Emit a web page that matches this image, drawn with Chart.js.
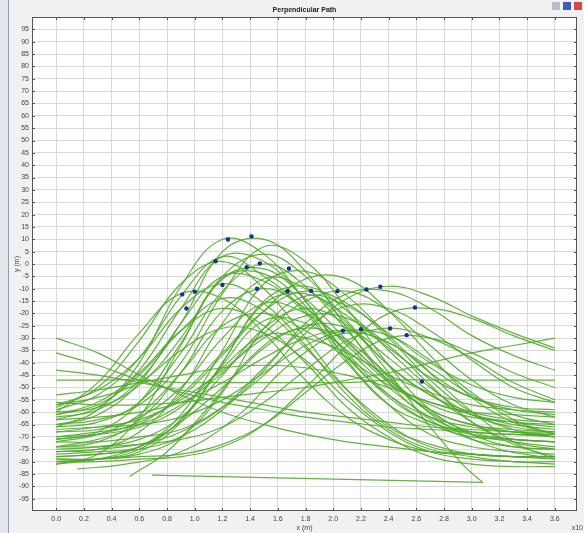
<!DOCTYPE html>
<html>
<head>
<meta charset="utf-8">
<script src="https://cdn.jsdelivr.net/npm/chart.js@4.4.1/dist/chart.umd.min.js"></script>
<style>
  html, body { margin: 0; padding: 0; background: #f1f1f1; }
  #wrap { position: relative; width: 584px; height: 533px; }
</style>
</head>
<body>
<div id="wrap"><canvas id="path"></canvas></div>
<script>
const xGrid = [0, 0.3, 0.6, 0.9, 1.2, 1.5, 1.8, 2.1, 2.4, 2.7, 3.0, 3.3, 3.6];

// tracks that peak early, around x = 1.0 .. 1.8
const earlyPaths = [
  [-62, -59, -47, -24, 5, 10, -3, -26, -48, -63, -71, -74, -75],
  [-66, -59, -40, -9, 10, 4, -15, -37, -54, -64, -68, -69, -70],
  [-58, -50, -31, -8, 1, -10, -30, -51, -66, -73, -77, -78, -78],
  [-71, -68, -56, -32, -6, -2, -14, -31, -47, -57, -62, -64, -65],
  [-66, -64, -56, -36, -11, 0, -9, -27, -46, -60, -68, -71, -72],
  [-78, -77, -74, -61, -35, -8, -3, -13, -29, -44, -54, -59, -61],
  [-57, -51, -38, -18, -8, -16, -33, -53, -67, -75, -78, -80, -80],
  [-74, -72, -63, -44, -19, -10, -18, -33, -48, -59, -65, -67, -68],
  [-80, -79, -76, -64, -40, -16, -12, -21, -34, -46, -54, -58, -59],
  [-60, -48, -28, -12, -14, -28, -47, -62, -71, -76, -77, -78, -78],
  [-59, -53, -38, -13, 3, -5, -19, -38, -53, -62, -66, -68, -69],
  [-65, -61, -48, -24, -5, -7, -20, -40, -57, -65, -70, -71, -72],
  [-63, -58, -43, -18, 3, 1, -15, -39, -57, -69, -74, -76, -77],
  [-76, -75, -68, -51, -24, -6, -10, -24, -41, -53, -61, -64, -66],
  [-61, -57, -45, -27, -14, -19, -34, -51, -65, -74, -77, -78, -79],
  [-68, -67, -62, -50, -30, -16, -20, -32, -47, -59, -65, -68, -70],
  [-72, -69, -61, -44, -25, -20, -27, -38, -49, -56, -60, -61, -62],
  [-80, -79, -75, -63, -41, -23, -24, -35, -50, -62, -69, -72, -74],
  [-57, -54, -48, -35, -26, -28, -39, -55, -68, -76, -79, -80, -81],
  [-77, -76, -74, -63, -40, -15, -9, -19, -35, -50, -61, -66, -68],
  [-60, -58, -49, -30, -5, 4, -5, -23, -41, -53, -60, -63, -64],
  [-65, -63, -57, -40, -12, 7, 1, -18, -41, -59, -69, -74, -75],
  [-81, -77, -62, -33, -6, -4, -17, -36, -53, -64, -69, -71, -72],
  [-79, -79, -77, -70, -52, -26, -13, -17, -28, -40, -49, -54, -56],
  [-70, -69, -66, -58, -42, -29, -30, -36, -45, -52, -57, -59, -60],
  [-61, -56, -44, -27, -18, -25, -40, -58, -70, -78, -81, -82, -82],
];

// tracks that peak later, around x = 1.8 .. 2.6
const latePaths = [
  [-74, -71, -65, -53, -36, -19, -11, -16, -30, -47, -60, -67, -70],
  [-70, -68, -65, -57, -44, -28, -15, -11, -19, -33, -47, -57, -62],
  [-78, -77, -75, -70, -59, -43, -24, -12, -11, -18, -29, -37, -43],
  [-72, -72, -70, -67, -58, -45, -28, -14, -9, -13, -21, -28, -34],
  [-80, -80, -79, -78, -74, -65, -50, -33, -20, -18, -22, -29, -35],
  [-63, -62, -60, -56, -48, -38, -30, -27, -32, -42, -53, -61, -65],
  [-67, -66, -65, -62, -55, -44, -33, -27, -29, -39, -52, -63, -69],
  [-74, -74, -73, -71, -66, -56, -43, -31, -26, -30, -38, -48, -55],
  [-79, -79, -78, -77, -73, -65, -52, -39, -30, -30, -36, -44, -50],
  [-81, -79, -74, -64, -50, -34, -25, -26, -38, -52, -64, -72, -75],
  [-76, -75, -73, -68, -58, -42, -26, -17, -18, -27, -39, -50, -56],
  [-68, -66, -63, -55, -43, -30, -21, -22, -33, -49, -64, -73, -78],
  [-71, -69, -64, -54, -37, -19, -6, -6, -19, -37, -54, -64, -69],
];

// shallow tracks without a clear hump
const flatPaths = [
  [-30, -36, -45, -53, -60, -65, -69, -72, -74, -76, -77, -78, -78],
  [-36, -41, -47, -52, -56, -59, -62, -64, -66, -67, -68, -69, -69],
  [-43, -45, -48, -51, -54, -57, -60, -62, -64, -66, -67, -68, -68],
  [-47, -47, -47, -48, -48, -48, -48, -48, -47, -47, -47, -47, -47],
  [-56, -57, -57, -56, -54, -52, -50, -47, -44, -40, -36, -33, -30],
  [-53, -51, -48, -45, -42, -41, -42, -45, -50, -56, -61, -65, -67],
];

// partial tracks with their own sample positions
const riseX = [0.53, 0.8, 1.1, 1.4, 1.7, 2.0, 2.3, 2.6, 2.9, 3.2, 3.5];
const riseY = [-86, -76, -58, -38, -27, -28, -40, -56, -68, -75, -78];
const lowX = [0.15, 0.5, 0.9, 1.3, 1.7, 2.1, 2.5, 2.9, 3.3, 3.6];
const lowY = [-83, -81, -76, -62, -40, -28, -35, -55, -72, -79];
const dropX = [0, 0.3, 0.6, 0.9, 1.2, 1.5, 1.8, 2.1, 2.4, 2.7, 2.95, 3.08];
const dropY = [-75, -74, -71, -62, -45, -26, -18, -25, -44, -66, -82, -88.4];
const floorX = [0.69, 3.08];
const floorY = [-85.5, -88.4];

// marked points
const markX = [1.24, 1.41, 1.15, 1.375, 1.47, 1.68, 1.2, 1.45, 1.67, 1.84, 2.03, 0.91, 1.0, 0.94, 2.07, 2.24, 2.34, 2.59, 2.2, 2.41, 2.53, 2.64];
const markY = [9.9, 11.2, 1.1, -1.3, 0.2, -1.8, -8.5, -10, -11, -10.9, -11, -12.3, -11.2, -18, -27, -10.3, -9.2, -17.6, -26.4, -26.1, -28.8, -47.6];

const xTicks = [0, 0.2, 0.4, 0.6, 0.8, 1.0, 1.2, 1.4, 1.6, 1.8, 2.0, 2.2, 2.4, 2.6, 2.8, 3.0, 3.2, 3.4, 3.6];
const yTicks = [-95, -90, -85, -80, -75, -70, -65, -60, -55, -50, -45, -40, -35, -30, -25, -20, -15, -10, -5, 0, 5, 10, 15, 20, 25, 30, 35, 40, 45, 50, 55, 60, 65, 70, 75, 80, 85, 90, 95];

const green = "rgba(82, 170, 46, 0.9)";
const font = "'Liberation Sans', Arial, sans-serif";

const track = (xs, ys) => xs.map((x, i) => ({ x, y: ys[i] }));

const lineSet = (data, tension = 0.4) => ({
  type: "line",
  data,
  borderColor: green,
  borderWidth: 1.2,
  pointRadius: 0,
  tension,
  order: 1,
});

const datasets = [
  {
    type: "scatter",
    data: track(markX, markY),
    pointRadius: 2.2,
    pointBackgroundColor: "#1b2f8c",
    pointBorderWidth: 0,
    order: 0,
  },
  ...[...earlyPaths, ...latePaths, ...flatPaths].map((ys) => lineSet(track(xGrid, ys))),
  lineSet(track(riseX, riseY)),
  lineSet(track(lowX, lowY)),
  lineSet(track(dropX, dropY)),
  lineSet(track(floorX, floorY), 0),
];

const frame = {
  id: "frame",
  beforeDraw(chart) {
    const { ctx, chartArea: a, width, height } = chart;
    ctx.save();
    ctx.fillStyle = "#f1f1f1";
    ctx.fillRect(0, 0, width, height);
    ctx.fillStyle = "#e3e5e9";
    ctx.fillRect(0, 0, 8, height);
    ctx.fillStyle = "#8e9db3";
    ctx.fillRect(8, 0, 1, height);
    ctx.fillStyle = "#ffffff";
    ctx.fillRect(a.left, a.top, a.right - a.left, a.bottom - a.top);
    ctx.restore();
  },
  afterDraw(chart) {
    const { ctx, chartArea: a, scales } = chart;
    ctx.save();
    ctx.strokeStyle = "#555";
    ctx.lineWidth = 1;
    ctx.strokeRect(a.left + 0.5, a.top + 0.5, a.right - a.left - 1, a.bottom - a.top - 1);

    ctx.beginPath();
    xTicks.forEach((v) => {
      const px = Math.round(scales.x.getPixelForValue(v)) + 0.5;
      ctx.moveTo(px, a.top);
      ctx.lineTo(px, a.top + 3);
      ctx.moveTo(px, a.bottom);
      ctx.lineTo(px, a.bottom - 3);
    });
    yTicks.forEach((v) => {
      const py = Math.round(scales.y.getPixelForValue(v)) + 0.5;
      ctx.moveTo(a.left, py);
      ctx.lineTo(a.left + 3, py);
      ctx.moveTo(a.right, py);
      ctx.lineTo(a.right - 3, py);
    });
    ctx.stroke();

    ctx.fillStyle = "#222";
    ctx.textAlign = "center";
    ctx.textBaseline = "middle";
    ctx.font = `bold 7px ${font}`;
    ctx.fillText("Perpendicular Path", (a.left + a.right) / 2, 10);

    ctx.fillStyle = "#444";
    ctx.font = `7px ${font}`;
    ctx.fillText("x (m)", (a.left + a.right) / 2, 528);
    ctx.textAlign = "right";
    ctx.fillText("x10", 583, 528);

    ctx.save();
    ctx.translate(17, (a.top + a.bottom) / 2);
    ctx.rotate(-Math.PI / 2);
    ctx.textAlign = "center";
    ctx.fillText("y (m)", 0, 0);
    ctx.restore();

    // window buttons
    [["#b9bcc2", 552], ["#3d5bb8", 563], ["#d04848", 574]].forEach(([c, x]) => {
      ctx.fillStyle = c;
      ctx.fillRect(x, 2, 8, 8);
    });
    ctx.restore();
  },
};

new Chart(document.getElementById("path"), {
  data: { datasets },
  options: {
    responsive: true,
    maintainAspectRatio: false,
    animation: false,
    events: [],
    layout: { padding: { left: 0, right: 7, top: 17, bottom: 0 } },
    plugins: {
      legend: { display: false },
      tooltip: { enabled: false },
      title: { display: false },
    },
    scales: {
      x: {
        type: "linear",
        min: -0.175,
        max: 3.76,
        afterBuildTicks(scale) {
          scale.ticks = xTicks.map((v) => ({ value: v }));
        },
        afterFit(scale) {
          scale.height = 22;
        },
        border: { display: false },
        grid: { color: "#d9d9d9", lineWidth: 1, drawTicks: false },
        ticks: {
          padding: 4,
          color: "#444",
          font: { size: 7, family: font },
          maxRotation: 0,
          autoSkip: false,
          callback: (v) => Number(v).toFixed(1),
        },
      },
      y: {
        type: "linear",
        min: -100,
        max: 100,
        afterBuildTicks(scale) {
          scale.ticks = yTicks.map((v) => ({ value: v }));
        },
        afterFit(scale) {
          scale.width = 32;
        },
        border: { display: false },
        grid: { color: "#d9d9d9", lineWidth: 1, drawTicks: false },
        ticks: {
          padding: 3,
          color: "#444",
          font: { size: 7, family: font },
          autoSkip: false,
          callback: (v) => String(v),
        },
      },
    },
  },
  plugins: [frame],
});
</script>
</body>
</html>
